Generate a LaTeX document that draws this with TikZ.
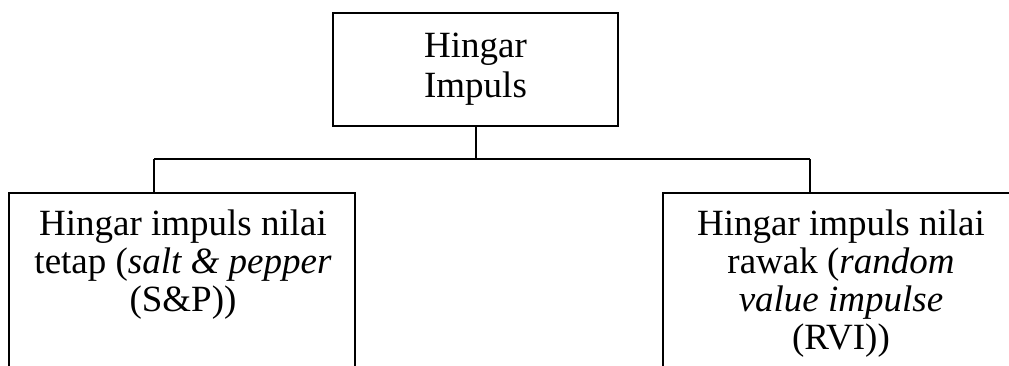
\documentclass[tikz,border=0pt]{standalone}
\usepackage{fontspec}
\setmainfont{Liberation Serif}
\begin{document}
\begin{tikzpicture}[x=1pt,y=1pt,
  box/.style={draw,line width=2pt,rectangle,inner sep=0pt},
  label/.style={align=center,inner sep=0pt,font=\fontsize{37}{38}\selectfont},
  link/.style={line width=2pt}]
  \clip (0,0) rectangle (1009,365);
  \fill[white] (0,0) rectangle (1009,365);
  % root box
  \node[box,minimum width=285pt,minimum height=113pt,align=center,
        font=\fontsize{37}{40}\selectfont] (root) at (475.5,295.5) {Hingar\\Impuls};
  % child boxes (run off the lower edge)
  \node[box,minimum width=346pt,minimum height=200pt] (lbox) at (182,72) {};
  \node[box,minimum width=354pt,minimum height=200pt] (rbox) at (840,72) {};
  % text placed by the baseline of its last line
  \node[label,anchor=base] (ltext) at (183,54)
    {Hingar impuls nilai\\tetap (\textit{salt \& pepper}\\(S\&P))};
  \node[label,anchor=base] (rtext) at (841,16)
    {Hingar impuls nilai\\rawak (\textit{random}\\\textit{value impulse}\\(RVI))};
  % tree connectors
  \coordinate (jn) at (475.5,206);
  \coordinate (jl) at (154,206);
  \coordinate (jr) at (810,206);
  \draw[link] (root.south) -- (jn);
  \draw[link] (jl) -- (jr);
  \draw[link] (jl) -- (jl |- lbox.north);
  \draw[link] (jr) -- (jr |- rbox.north);
\end{tikzpicture}
\end{document}
